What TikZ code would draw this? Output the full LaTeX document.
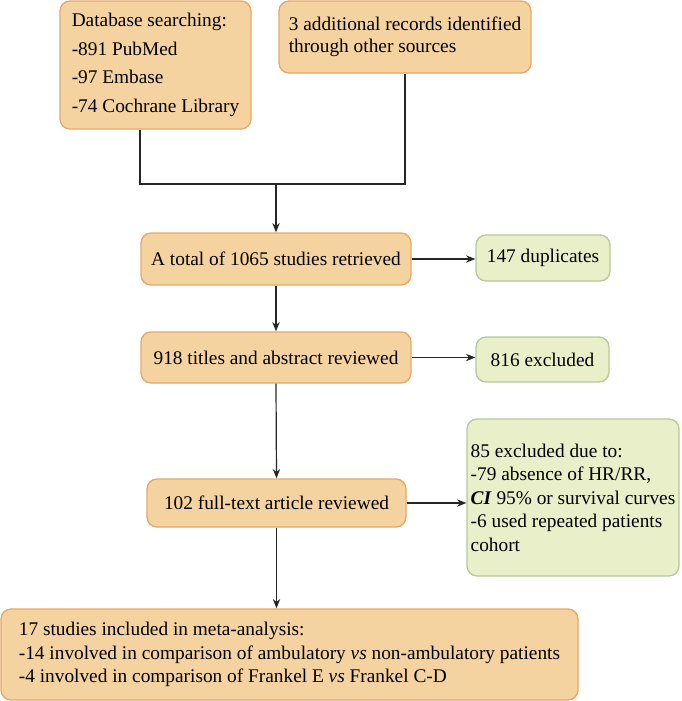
\documentclass[tikz,border=0pt]{standalone}
\usepackage{fontspec}
\setmainfont{Liberation Serif}
\usetikzlibrary{arrows.meta}
\definecolor{stepfill}{HTML}{F5D3A1}
\definecolor{stepline}{HTML}{E5A869}
\definecolor{outfill}{HTML}{E8EFC9}
\definecolor{outline}{HTML}{B7C899}
\begin{document}
\begin{tikzpicture}
    [
        x = 0.75pt, y = -0.75pt,
        every node/.style = {font = \fontsize{14.5}{17.6}\selectfont, align = left, inner sep = 0pt},
        stepbox/.style = {draw = stepline, fill = stepfill, line width = 1pt, rounded corners = 7.5pt},
        outbox/.style = {draw = outline, fill = outfill, line width = 1pt, rounded corners = 7.5pt},
        link/.style = {line width = 0.9pt, draw = black!85},
        flow/.style = {link, -{Stealth[length = 7pt, width = 5.5pt]}}
    ]

        \useasboundingbox (0,0) rectangle (682,701);

        \node[stepbox, minimum width = 143.25pt, minimum height = 96pt,
            font = \fontsize{14.5}{21.5}\selectfont] (dbs) at (155.5,65)
            {Database searching:\\-891 PubMed\\-97 Embase\\-74 Cochrane Library};
        \node[stepbox, minimum width = 189pt, minimum height = 54pt,
            font = \fontsize{14.5}{16.9}\selectfont] (other) at (405,37)
            {3 additional records identified\\through other sources};

        \node[stepbox, minimum width = 202.5pt, minimum height = 39pt] (total) at (276,259)
            {A total of 1065 studies retrieved};
        \node[outbox, minimum width = 100.5pt, minimum height = 34.5pt] (dup) at (543,258)
            {147 duplicates};

        \node[stepbox, minimum width = 202.5pt, minimum height = 38.25pt] (titles) at (276,357.5)
            {918 titles and abstract reviewed};
        \node[outbox, minimum width = 99.75pt, minimum height = 33.75pt] (excl) at (542.5,359.5)
            {816 excluded};

        \node[stepbox, minimum width = 194.25pt, minimum height = 36pt] (full) at (276.5,503)
            {102 full-text article reviewed};
        \node[outbox, minimum width = 159pt, minimum height = 117.75pt] (why) at (573,497.5)
            {85 excluded due to:\\-79 absence of HR/RR,\\\textbf{\textit{CI}} 95\% or survival curves\\-6 used repeated patients\\cohort};

        \node[stepbox, minimum width = 432.75pt, minimum height = 68.25pt] (incl) at (289.5,654.5)
            {17 studies included in meta-analysis:\\-14 involved in comparison of ambulatory \textit{vs} non-ambulatory patients\\-4 involved in comparison of Frankel E \textit{vs} Frankel C-D};

        \coordinate (join) at (276,184);

        \draw[link] ([xshift = -11.6pt]dbs.south) |- (join);
        \draw[link] (other.south) |- (join);
        \draw[flow] (join) -- (total.north);
        \draw[flow] (total.east) -- (total.east -| dup.west);
        \draw[flow] (total.south) -- (titles.north);
        \draw[flow] (titles.east) -- (titles.east -| excl.west);
        \draw[flow] (titles.south) -- (full.north);
        \draw[flow] (full.east) -- (full.east -| why.west);
        \draw[flow] (full.south) -- (incl.north -| full.south);
    \end{tikzpicture}
\end{document}
